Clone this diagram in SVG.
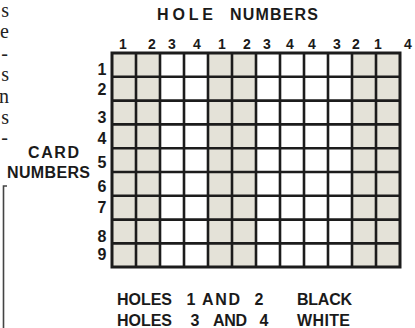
<svg xmlns="http://www.w3.org/2000/svg" width="415" height="328" viewBox="0 0 415 328">
<style>
.lbl{font-family:"Liberation Sans","DejaVu Sans",sans-serif;font-weight:bold;fill:#1a1a1a}
.num{font-size:14px;text-anchor:middle}
.row{font-size:16px;text-anchor:middle}
.word{font-size:16px}
.mid{text-anchor:middle}
.frag{font-family:"Liberation Serif",serif;font-size:20px;fill:#222;text-anchor:end}
.shade{fill:#e4e2d8}
.gl{stroke:#1c1c1c;stroke-width:2.6;fill:none}
</style>
<rect width="415" height="328" fill="#ffffff"/>
<g id="left-fragments">
<text class="frag" x="9" y="17">s</text>
<text class="frag" x="9" y="38">e</text>
<text class="frag" x="8" y="60">-</text>
<text class="frag" x="9" y="81">s</text>
<text class="frag" x="9" y="103">n</text>
<text class="frag" x="9" y="124">s</text>
<text class="frag" x="8" y="144">-</text>
<path d="M3.5,328 V186 H7" stroke="#444" stroke-width="1.6" fill="none"/>
</g>
<g id="title">
<text class="lbl word" x="157" y="20" textLength="56" lengthAdjust="spacing">HOLE</text>
<text class="lbl word" x="230" y="20" textLength="88" lengthAdjust="spacing">NUMBERS</text>
</g>
<g id="column-numbers" class="lbl num">
<text x="123" y="49">1</text>
<text x="152" y="49">2</text>
<text x="172" y="49">3</text>
<text x="197" y="49">4</text>
<text x="222" y="49">1</text>
<text x="247" y="49">2</text>
<text x="267" y="49">3</text>
<text x="290" y="49">4</text>
<text x="312" y="49">4</text>
<text x="337" y="49">3</text>
<text x="356" y="49">2</text>
<text x="378" y="49">1</text>
<text x="408" y="49">4</text>
</g>
<g id="row-numbers" class="lbl row">
<text x="102" y="75">1</text>
<text x="102" y="95">2</text>
<text x="102" y="123">3</text>
<text x="102" y="144">4</text>
<text x="102" y="168">5</text>
<text x="102" y="192">6</text>
<text x="102" y="213">7</text>
<text x="102" y="242">8</text>
<text x="102" y="260">9</text>
</g>
<g id="card-numbers-label">
<text class="lbl word" x="28" y="158" textLength="51" lengthAdjust="spacing">CARD</text>
<text class="lbl word" x="7" y="178" textLength="83" lengthAdjust="spacing">NUMBERS</text>
</g>
<g id="grid">
<rect class="shade" x="112" y="53" width="48" height="214"/>
<rect class="shade" x="208" y="53" width="48" height="214"/>
<rect class="shade" x="352" y="53" width="48" height="214"/>
<path class="gl" d="M136,53V267M160,53V267M184,53V267M208,53V267M232,53V267M256,53V267M280,53V267M304,53V267M328,53V267M352,53V267M376,53V267M112,76.8H400M112,100.6H400M112,124.4H400M112,148.2H400M112,172H400M112,195.8H400M112,219.6H400M112,243.4H400"/>
<rect x="112" y="53" width="288" height="214" fill="none" stroke="#1c1c1c" stroke-width="3"/>
</g>
<g id="legend">
<text class="lbl word" x="117" y="305" textLength="55" lengthAdjust="spacing">HOLES</text>
<text class="lbl word mid" x="191" y="305">1</text>
<text class="lbl word" x="202" y="305" textLength="38" lengthAdjust="spacing">AND</text>
<text class="lbl word mid" x="259" y="305">2</text>
<text class="lbl word" x="297" y="305" textLength="55" lengthAdjust="spacing">BLACK</text>
<text class="lbl word" x="117" y="326" textLength="55" lengthAdjust="spacing">HOLES</text>
<text class="lbl word mid" x="195" y="326">3</text>
<text class="lbl word" x="213" y="326" textLength="34" lengthAdjust="spacing">AND</text>
<text class="lbl word mid" x="264" y="326">4</text>
<text class="lbl word" x="297" y="326" textLength="53" lengthAdjust="spacing">WHITE</text>
</g>
</svg>
